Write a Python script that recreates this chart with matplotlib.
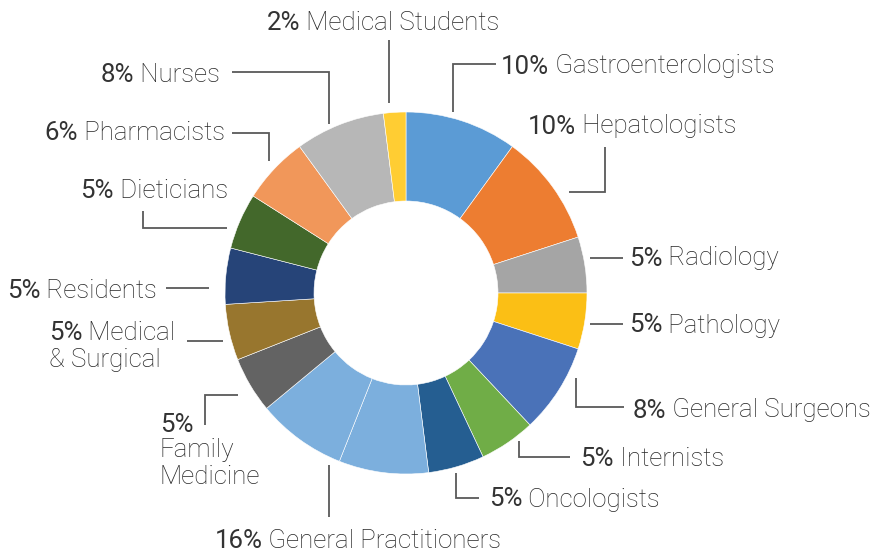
import matplotlib
matplotlib.use("Agg")
import matplotlib.pyplot as plt

# ---------------- data ----------------
categories = ["Gastroenterologists", "Hepatologists", "Radiology", "Pathology",
              "General Surgeons", "Internists", "Oncologists", "General Practitioners",
              "Family Medicine", "Medical & Surgical", "Residents", "Dieticians",
              "Pharmacists", "Nurses", "Medical Students"]
percents = [10, 10, 5, 5, 8, 5, 5, 16, 5, 5, 5, 5, 6, 8, 2]
# General Practitioners is drawn as two equal wedges of the same colour
gp_split = [8, 8]
colors = ["#5B9BD5", "#ED7D31", "#A5A5A5", "#FBBF15", "#4A72B8", "#70AD47",
          "#255E91", "#7CAFDD", "#636363", "#98762E", "#264478", "#43682B",
          "#F1975A", "#B7B7B7", "#FFCD33"]
label_names = ["Gastroenterologists", "Hepatologists", "Radiology", "Pathology",
               "General Surgeons", "Internists", "Oncologists", "General Practitioners",
               "Family\nMedicine", "Medical\n& Surgical", "Residents", "Dieticians",
               "Pharmacists", "Nurses", "Medical Students"]

W, H = 875, 553
fig = plt.figure(figsize=(W / 100, H / 100), dpi=100)
ax = fig.add_axes([0, 0, 1, 1])

wedge_vals, wedge_cols = [], []
for cat, v, c in zip(categories, percents, colors):
    if cat == "General Practitioners":
        wedge_vals += gp_split
        wedge_cols += [c] * len(gp_split)
    else:
        wedge_vals.append(v)
        wedge_cols.append(c)

cx, cy, R = 406, H - 293, 181
ax.pie(wedge_vals, colors=wedge_cols, startangle=90, counterclock=False,
       radius=R, center=(cx, cy),
       wedgeprops=dict(width=89, edgecolor="white", linewidth=0.4))
ax.set_xlim(0, W)
ax.set_ylim(0, H)
ax.set_aspect("equal")
ax.axis("off")

PCOL = "#333333"
NCOL = "#262626"
LINE = "#595959"
FS = 18.6
FAM = "Roboto"
PW = "normal"
NW = "light"
renderer = fig.canvas.get_renderer()


def P(px, py):
    return px, H - py


def rich(px, py, pct, name, ha="left"):
    """Draw '<pct>% <name>' with heavier percent, anchored at pixel (px, py), vertical centre."""
    x, y = P(px, py)
    first = name.split("\n")[0]
    t1 = ax.text(0, y, f"{pct}%", fontsize=FS, family=FAM, weight=PW,
                 color=PCOL, va="center_baseline", ha="left")
    t2 = ax.text(0, y, " " + first, fontsize=FS, family=FAM, weight=NW,
                 color=NCOL, va="center_baseline", ha="left")
    w1 = t1.get_window_extent(renderer).width
    w2 = t2.get_window_extent(renderer).width
    total = w1 + w2
    if ha == "left":
        x0 = x
    elif ha == "right":
        x0 = x - total
    else:
        x0 = x - total / 2
    t1.set_x(x0)
    t2.set_x(x0 + w1)
    return x0


def line(pts):
    xs = [p[0] for p in pts]
    ys = [H - p[1] for p in pts]
    ax.plot(xs, ys, color=LINE, lw=1.3, solid_capstyle="butt", solid_joinstyle="miter")


pct = dict(zip(categories, percents))
names = dict(zip(categories, label_names))

# Medical Students
rich(383, 21, pct["Medical Students"], names["Medical Students"], "center")
line([(389, 40), (389, 103)])
# Gastroenterologists
rich(501, 64, pct["Gastroenterologists"], names["Gastroenterologists"], "left")
line([(453, 112), (453, 64), (496, 64)])
# Hepatologists
rich(528, 124, pct["Hepatologists"], names["Hepatologists"], "left")
line([(569, 192), (605, 192), (605, 147)])
# Radiology
rich(629, 256, pct["Radiology"], names["Radiology"], "left")
line([(590, 258), (623, 258)])
# Pathology
rich(629, 323, pct["Pathology"], names["Pathology"], "left")
line([(590, 324), (623, 324)])
# General Surgeons
rich(633, 408, pct["General Surgeons"], names["General Surgeons"], "left")
line([(576, 378), (576, 407), (624, 407)])
# Internists
rich(580, 456, pct["Internists"], names["Internists"], "left")
line([(519, 441), (519, 457), (570, 457)])
# Oncologists
rich(489, 497, pct["Oncologists"], names["Oncologists"], "left")
line([(456, 473), (456, 498), (479, 498)])
# General Practitioners
rich(358, 538, pct["General Practitioners"], names["General Practitioners"], "center")
line([(329, 465), (329, 517)])
# Family Medicine (three lines)
x, y = P(160, 422)
ax.text(x, y, f"{pct['Family Medicine']}%", fontsize=FS, family=FAM, weight=PW,
        color=PCOL, va="center_baseline", ha="left")
for i, ln in enumerate(names["Family Medicine"].split("\n")):
    ax.text(x, H - (448 + 27 * i), ln, fontsize=FS, family=FAM, weight=NW,
            color=NCOL, va="center_baseline", ha="left")
line([(238, 395), (205, 395), (205, 425)])
# Medical & Surgical (two lines)
ms = names["Medical & Surgical"].split("\n")
rich(49, 331, pct["Medical & Surgical"], ms[0], "left")
ax.text(49, H - 357, ms[1], fontsize=FS, family=FAM, weight=NW,
        color=NCOL, va="center_baseline", ha="left")
line([(187, 341), (223, 341)])
# Residents
rich(7, 289, pct["Residents"], names["Residents"], "left")
line([(166, 288), (209, 288)])
# Dieticians
rich(228, 188, pct["Dieticians"], names["Dieticians"], "right")
line([(143, 211), (143, 228), (227, 228)])
# Pharmacists
rich(225, 130, pct["Pharmacists"], names["Pharmacists"], "right")
line([(232, 133), (269, 133), (269, 161)])
# Nurses
rich(220, 72, pct["Nurses"], names["Nurses"], "right")
line([(232, 72), (329, 72), (329, 124)])

fig.savefig("out.png", dpi=100)
